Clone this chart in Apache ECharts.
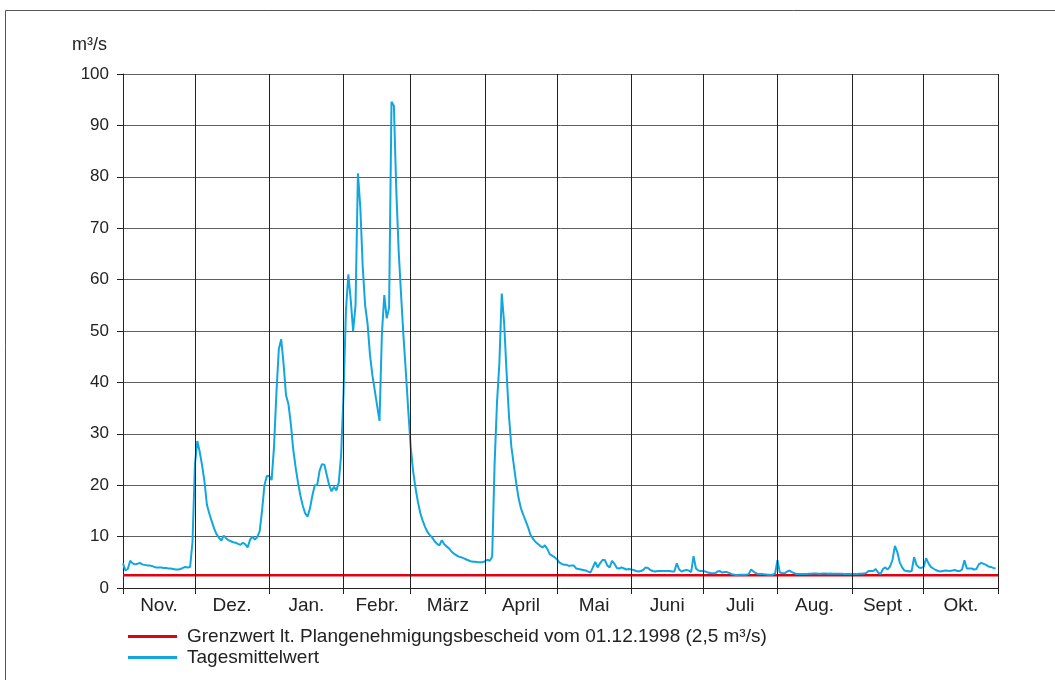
<!DOCTYPE html>
<html>
<head>
<meta charset="utf-8">
<script src="https://cdn.jsdelivr.net/npm/echarts@6/dist/echarts.min.js"></script>
<style>
  html, body { margin: 0; padding: 0; background: #fff; }
  #chart { width: 1055px; height: 680px; }
</style>
</head>
<body>
<div id="chart"></div>
<script>
// Tagesmittelwerte (m³/s), hydrologisches Jahr Nov - Okt
var nov = [4.8, 3.4, 3.7, 5.3, 4.8, 4.6, 4.7, 4.9, 4.6, 4.5, 4.4, 4.4, 4.3, 4.1, 4.0, 4.0, 4.0, 3.9, 3.9, 3.8,
           3.8, 3.7, 3.6, 3.6, 3.7, 3.9, 4.1, 4.0, 4.1, 9.0];
var dez = [24, 28.6, 26.5, 23.8, 20.7, 16.2, 14.5, 13, 11.6, 10.5, 9.8, 9.2, 10.2, 9.7, 9.3, 9.1, 8.9, 8.8, 8.6, 8.4,
           8.8, 8.5, 7.9, 9.4, 10.0, 9.4, 9.9, 11.0, 15, 20, 21.8];
var jan = [21.8, 21, 27.5, 38, 46.5, 48.4, 43.5, 37.5, 35.8, 32, 27, 23.5, 20.5, 18, 16, 14.5, 13.9, 15.5, 18, 20,
           20, 22.8, 24.1, 24, 22, 20, 18.8, 19.7, 19, 20.5, 26];
var feb = [38, 54, 61, 56, 50, 55, 80.7, 74, 62.5, 55, 51.5, 45.5, 41.5, 38.5, 35.5, 32.5, 49.5, 57, 52.5, 54.5,
           94.6, 93.8, 77.4, 65.5, 57, 49, 42, 34.5];
var mar = [27.5, 22.8, 19.5, 16.8, 14.6, 13.1, 11.9, 10.9, 10.3, 9.8, 9.1, 8.6, 8.3, 9.3, 8.5, 8.1, 7.7, 7.1, 6.7, 6.4,
           6.1, 6.0, 5.8, 5.6, 5.4, 5.2, 5.1, 5.1, 5.0, 5.0, 5.0];
var apr = [5.2, 5.5, 5.3, 6.1, 24, 36, 43.7, 57.3, 51.5, 42, 33.5, 27.5, 24, 20.5, 17.5, 15.5, 14.2, 13, 11.8, 10.3,
           9.6, 9.0, 8.6, 8.2, 7.9, 8.3, 7.6, 6.6, 6.3, 6.0];
var mai = [5.6, 5.0, 4.7, 4.5, 4.5, 4.3, 4.4, 4.4, 3.8, 3.7, 3.6, 3.5, 3.4, 3.2, 3.0, 4.0, 5.1, 4.0, 4.8, 5.45,
           5.45, 4.4, 4.0, 5.3, 4.7, 3.9, 3.8, 4.0, 3.8, 3.6, 3.7];
var jun = [3.6, 3.5, 3.3, 3.2, 3.3, 3.5, 4.0, 3.9, 3.5, 3.3, 3.2, 3.3, 3.3, 3.3, 3.3, 3.3, 3.3, 3.2, 3.2, 4.8,
           3.6, 3.2, 3.4, 3.5, 3.4, 3.1, 6.2, 3.8, 3.4, 3.3];
var jul = [3.3, 3.2, 3.0, 2.9, 2.85, 2.85, 3.2, 3.3, 3.0, 3.1, 3.1, 2.9, 2.7, 2.6, 2.5, 2.6, 2.6, 2.6, 2.6, 2.7,
           3.6, 3.2, 2.9, 2.7, 2.7, 2.7, 2.65, 2.6, 2.6, 2.6, 2.8];
var aug = [5.4, 3.0, 2.9, 2.85, 3.2, 3.4, 3.1, 2.9, 2.7, 2.7, 2.7, 2.7, 2.7, 2.75, 2.75, 2.8, 2.8, 2.75, 2.75, 2.8,
           2.8, 2.75, 2.8, 2.75, 2.75, 2.75, 2.75, 2.75, 2.7, 2.7, 2.7];
var sep = [2.7, 2.7, 2.7, 2.75, 2.75, 2.8, 2.9, 3.3, 3.3, 3.3, 3.7, 3.0, 2.7, 3.7, 4.0, 3.6, 4.2, 5.5, 8.2, 7.0,
           5.0, 4.0, 3.4, 3.3, 3.2, 3.3, 6.0, 4.5, 4.0, 3.9];
var okt = [4.1, 5.8, 4.8, 4.1, 3.8, 3.5, 3.3, 3.2, 3.3, 3.4, 3.35, 3.3, 3.4, 3.5, 3.3, 3.3, 3.6, 5.4, 3.8, 3.8,
           3.8, 3.6, 3.7, 4.6, 4.9, 4.7, 4.5, 4.2, 4.1, 3.9, 3.8];

var months = [nov, dez, jan, feb, mar, apr, mai, jun, jul, aug, sep, okt];
var monthNames = ['Nov.', 'Dez.', 'Jan.', 'Febr.', 'März', 'April', 'Mai', 'Juni', 'Juli', 'Aug.', 'Sept .', 'Okt.'];
var yTicks = [0, 10, 20, 30, 40, 50, 60, 70, 80, 90, 100];
var grenzwert = 2.5;

var nameGrenz = 'Grenzwert lt. Plangenehmigungsbescheid vom 01.12.1998 (2,5 m³/s)';
var nameTag = 'Tagesmittelwert';

// day index -> value, month boundaries, month centres
var daily = [];
var bounds = [0];
var mids = [];
months.forEach(function (m) {
    var start = bounds[bounds.length - 1];
    m.forEach(function (v, i) { daily.push([start + i, v]); });
    bounds.push(start + m.length);
    mids.push(start + m.length / 2);
});
var total = bounds[bounds.length - 1];

var font = 'Liberation Sans, Arial, sans-serif';
var chart = echarts.init(document.getElementById('chart'));

chart.setOption({
    animation: false,
    backgroundColor: '#fff',
    textStyle: { fontFamily: font },
    graphic: [{
        type: 'rect',
        shape: { x: 5.5, y: 10.5, width: 1100, height: 700 },
        style: { fill: 'none', stroke: '#555', lineWidth: 1 },
        silent: true
    }],
    grid: { left: 123, top: 74, width: 875, height: 514 },
    legend: {
        orient: 'vertical',
        left: 128,
        top: 627,
        padding: 0,
        itemWidth: 49,
        itemHeight: 3,
        itemGap: 2,
        icon: 'rect',
        data: [nameGrenz, nameTag],
        textStyle: { fontSize: 19, color: '#222', fontFamily: font, lineHeight: 19, padding: [0, 0, 0, 5] }
    },
    xAxis: {
        type: 'value',
        min: 0,
        max: total,
        axisLine: { show: true, lineStyle: { color: '#222', width: 1 } },
        axisTick: { show: true, length: 6, customValues: bounds, lineStyle: { color: '#222' } },
        axisLabel: {
            customValues: mids,
            fontSize: 19,
            color: '#222',
            margin: 8,
            formatter: function (v) {
                var best = 0;
                mids.forEach(function (m, i) { if (Math.abs(m - v) < Math.abs(mids[best] - v)) best = i; });
                return monthNames[best];
            }
        },
        splitLine: { show: false }
    },
    yAxis: {
        type: 'value',
        min: yTicks[0],
        max: yTicks[yTicks.length - 1],
        interval: 10,
        name: 'm³/s',
        nameLocation: 'end',
        nameGap: 20,
        nameTextStyle: { fontSize: 18, color: '#222', align: 'right', padding: [0, 16, 0, 0] },
        axisLine: { show: true, lineStyle: { color: '#222', width: 1 } },
        axisTick: { show: true, length: 6, lineStyle: { color: '#222' } },
        axisLabel: { fontSize: 17, color: '#222', margin: 14 },
        splitLine: { show: true, lineStyle: { color: '#5e5e5e', width: 1 } }
    },
    series: [
        {
            name: 'Monate',
            type: 'line',
            data: [],
            silent: true,
            markLine: {
                silent: true,
                symbol: ['none', 'none'],
                label: { show: false },
                lineStyle: { color: '#222', width: 1, type: 'solid' },
                data: bounds.slice(1).map(function (b) { return { xAxis: b }; })
            }
        },
        {
            name: nameGrenz,
            type: 'line',
            data: [[0, grenzwert], [total, grenzwert]],
            symbol: 'none',
            itemStyle: { color: '#e3000f' },
            lineStyle: { color: '#e3000f', width: 2.5 }
        },
        {
            name: nameTag,
            type: 'line',
            data: daily,
            symbol: 'none',
            itemStyle: { color: '#12a6e0' },
            lineStyle: { color: '#12a6e0', width: 2 }
        }
    ]
});
</script>
</body>
</html>
